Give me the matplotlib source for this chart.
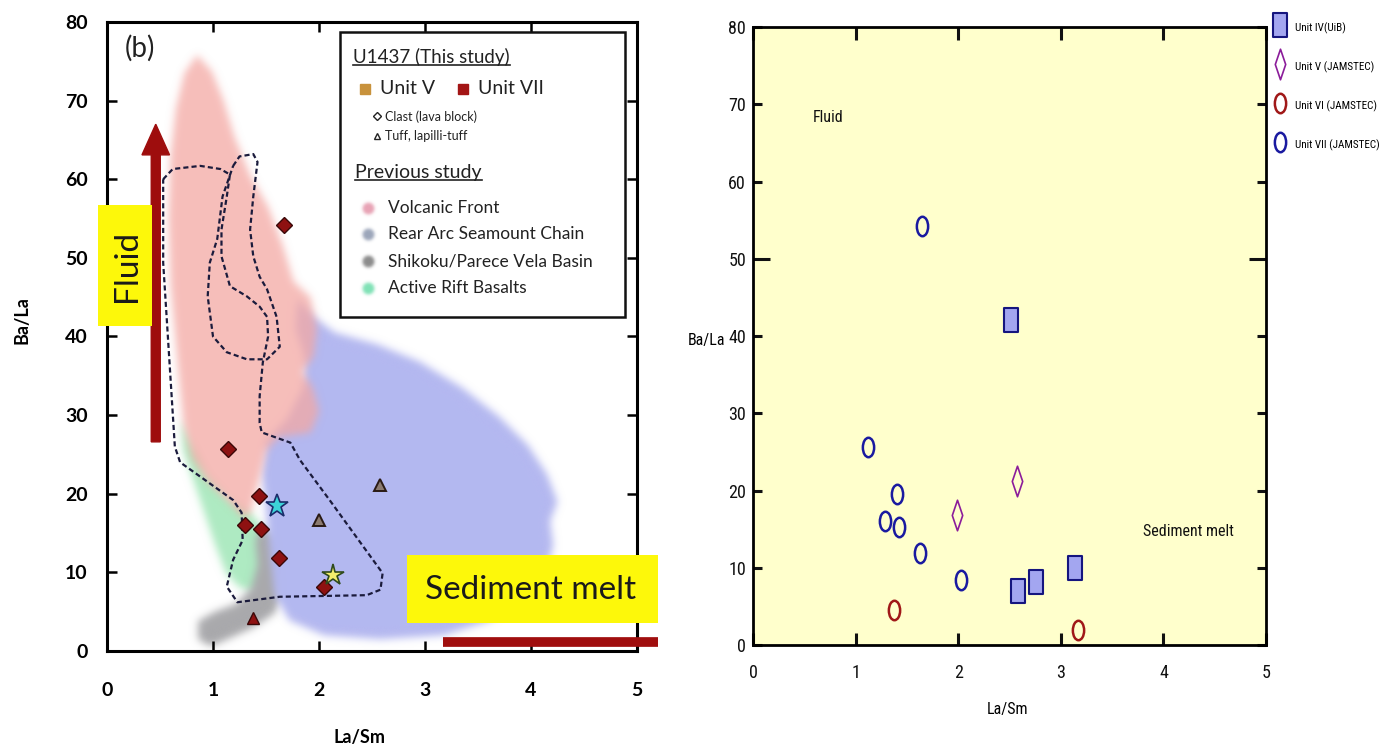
import numpy as np
import matplotlib
matplotlib.use("Agg")
import matplotlib.pyplot as plt
from matplotlib import font_manager as fm
from matplotlib.path import Path
from matplotlib.patches import Polygon, Rectangle, FancyArrow
from matplotlib.transforms import Affine2D

# ---------------- data ----------------
x_ticks = [0, 1, 2, 3, 4, 5]
y_ticks = [0, 10, 20, 30, 40, 50, 60, 70, 80]
x_tick_labels = [str(v) for v in x_ticks]
y_tick_labels = [str(v) for v in y_ticks]

# (b) U1437 samples
u7_clast_x = [1.67, 1.14, 1.43, 1.30, 1.45, 1.62, 2.05]
u7_clast_y = [54.2, 25.7, 19.7, 16.0, 15.5, 11.8, 8.2]
u7_tuff_x = [1.38]
u7_tuff_y = [4.2]
u5_tuff_x = [2.00, 2.58]
u5_tuff_y = [16.7, 21.1]
star_cyan_x, star_cyan_y = [1.60], [18.5]
star_yellow_x, star_yellow_y = [2.13], [9.7]

# previous-study compositional fields (La/Sm, Ba/La)
volcanic_front = [(0.85, 75.8), (0.99, 73.7), (1.10, 70.0), (1.20, 65.5), (1.35, 60.5),
                  (1.52, 56.5), (1.66, 51.5), (1.76, 47.0), (1.92, 45.0), (1.98, 41.0),
                  (1.95, 37.5), (1.84, 35.5), (1.94, 33.5), (2.00, 30.5), (1.92, 27.8),
                  (1.62, 27.2), (1.50, 25.5), (1.44, 22.0), (1.36, 17.8), (1.30, 16.8),
                  (1.15, 19.0), (0.95, 21.5), (0.80, 24.5), (0.72, 29.0), (0.66, 37.5),
                  (0.60, 46.5), (0.58, 55.0), (0.60, 63.0), (0.65, 69.0), (0.73, 73.5)]
rear_arc = [(1.80, 44.8), (1.95, 42.5), (2.15, 40.5), (2.55, 39.0), (2.95, 36.8),
            (3.35, 33.5), (3.70, 29.8), (3.97, 26.2), (4.15, 22.5), (4.25, 19.0),
            (4.18, 16.5), (4.21, 13.5), (4.15, 10.3), (3.97, 6.8), (3.60, 3.8),
            (3.17, 2.0), (2.58, 1.5), (2.05, 2.0), (1.72, 3.9), (1.58, 7.2),
            (1.54, 12.0), (1.50, 18.0), (1.46, 22.5), (1.50, 26.8), (1.70, 29.5),
            (1.85, 33.5), (1.86, 37.5), (1.78, 41.0)]
active_rift = [(0.70, 29.5), (0.72, 25.5), (0.82, 21.5), (0.92, 17.5), (1.02, 13.5),
               (1.12, 10.0), (1.24, 8.2), (1.38, 7.5), (1.48, 8.5), (1.52, 12.0),
               (1.48, 15.5), (1.36, 17.5), (1.15, 19.5), (0.95, 22.5), (0.80, 26.5)]
shikoku = [(1.45, 16.0), (1.62, 14.5), (1.68, 11.0), (1.66, 7.5), (1.58, 4.8),
           (1.38, 3.0), (1.15, 1.6), (0.98, 0.6), (0.86, 1.5), (0.86, 3.8),
           (1.02, 5.0), (1.22, 6.0), (1.36, 8.0), (1.42, 11.0), (1.40, 14.0)]
outer_field = [(0.53, 60.0), (0.62, 61.3), (0.88, 61.7), (1.07, 61.3), (1.16, 60.6),
               (1.13, 57.8), (1.08, 53.6), (1.08, 50.2), (1.16, 46.4), (1.32, 45.1),
               (1.44, 43.8), (1.51, 42.5), (1.52, 40.0), (1.47, 36.7), (1.44, 32.4),
               (1.44, 29.0), (1.46, 27.8), (1.73, 26.5), (1.82, 24.3), (2.10, 19.2),
               (2.39, 13.8), (2.60, 9.9), (2.58, 7.8), (2.45, 7.1), (1.63, 6.9),
               (1.23, 6.2), (1.13, 8.2), (1.19, 11.6), (1.28, 14.1), (1.27, 17.6),
               (1.19, 19.2), (0.69, 24.0), (0.64, 26.0), (0.57, 40.9), (0.53, 49.4),
               (0.53, 60.0)]
inner_field = [(1.19, 61.7), (1.25, 62.9), (1.38, 63.2), (1.42, 62.2), (1.38, 57.8),
               (1.35, 53.6), (1.38, 50.2), (1.44, 47.6), (1.51, 46.0), (1.60, 42.5),
               (1.63, 38.7), (1.51, 37.1), (1.32, 37.1), (1.13, 38.0), (1.00, 40.0),
               (0.95, 45.1), (0.97, 49.4), (1.04, 52.4), (1.09, 57.8), (1.19, 61.7)]

# right panel: units
unit4_x = [2.51, 2.58, 2.76, 3.14]
unit4_y = [42.1, 7.0, 8.1, 10.0]
unit5_x = [1.99, 2.57]
unit5_y = [16.8, 21.2]
unit6_x = [1.37, 3.17]
unit6_y = [4.5, 1.9]
unit7_x = [1.65, 1.12, 1.40, 1.29, 1.42, 1.63, 2.03]
unit7_y = [54.3, 25.6, 19.5, 16.1, 15.3, 11.9, 8.4]

LEFT_FONT = ["Lato", "DejaVu Sans"]


def pick_narrow_font():
    """Return (family, stretch) for the narrowest sans face available."""
    entries = fm.fontManager.ttflist
    names = {e.name for e in entries}
    for n in ["Liberation Sans Narrow", "Arial Narrow", "Roboto Condensed",
              "Open Sans Condensed", "DejaVu Sans Condensed", "Noto Sans Condensed"]:
        if n in names:
            return n, "normal", True
    for pref in ["Liberation Sans", "DejaVu Sans", "Noto Sans", "Roboto",
                 "Open Sans", "Lato", "Inter"]:
        for e in entries:
            if (e.name == pref and str(e.stretch) in ("condensed", "semi-condensed")
                    and e.style == "normal"):
                return pref, str(e.stretch), True
    return "Roboto", "normal", False


NARROW, NARROW_STRETCH, HAVE_NARROW = pick_narrow_font()
RIGHT_FONT = [NARROW, "DejaVu Sans"]
RT = dict(family=RIGHT_FONT, fontstretch=NARROW_STRETCH)
TICK_SIZE = 13 if HAVE_NARROW else 12
TEXT_SIZE = 11.5 if HAVE_NARROW else 10.5


# ---------------- helpers ----------------
def _blur1d(a, k, axis):
    p = len(k) // 2
    a = np.moveaxis(a, axis, 0)
    n = a.shape[0]
    ap = np.pad(a, ((p, p),) + ((0, 0),) * (a.ndim - 1))
    out = np.zeros_like(a)
    for i, kv in enumerate(k):
        out += kv * ap[i:i + n]
    return np.moveaxis(out, 0, axis)


def soft_edges(sigma):
    """agg filter giving a patch a feathered outline."""
    p = int(np.ceil(3 * sigma))
    n = np.arange(-p, p + 1)
    k = np.exp(-0.5 * (n / sigma) ** 2)
    k /= k.sum()

    def _filter(img, dpi):
        a = img[..., 3:4]
        pm = np.concatenate([img[..., :3] * a, a], axis=-1)
        pm = np.pad(pm, ((p, p), (p, p), (0, 0)))
        b = _blur1d(_blur1d(pm, k, 0), k, 1)
        alpha = b[..., 3:4]
        rgb = b[..., :3] / np.maximum(alpha, 1e-6)
        out = np.concatenate([rgb, alpha], axis=-1)
        return np.clip(out, 0, 1), -p, -p
    return _filter


def field(ax, verts, color, alpha=1.0, z=1, sigma=4.0):
    poly = Polygon(verts, closed=True, facecolor=color, edgecolor="none",
                   alpha=alpha, zorder=z)
    poly.set_agg_filter(soft_edges(sigma))
    ax.add_patch(poly)


W, H = 1384, 749
fig = plt.figure(figsize=(W / 100, H / 100), dpi=100)

# ================= left panel (b) =================
ax1 = fig.add_axes([0.07731, 0.13084, 0.38295, 0.83979])
ax1.set_xlim(0, 5)
ax1.set_ylim(0, 80)
ax1.set_xticks(x_ticks, x_tick_labels, fontweight="bold", family=LEFT_FONT, fontsize=14)
ax1.set_yticks(y_ticks, y_tick_labels, fontweight="bold", family=LEFT_FONT, fontsize=14)
ax1.tick_params(direction="in", length=7, width=1.8, top=True, right=True)
ax1.tick_params(axis="x", pad=22)
ax1.tick_params(axis="y", pad=14)
for s in ax1.spines.values():
    s.set_linewidth(2.2)
ax1.set_ylabel("Ba/La", fontweight="bold", family=LEFT_FONT, fontsize=13,
               ha="center", va="center")
ax1.yaxis.set_label_coords(-0.160, 0.526)
ax1.set_xlabel("La/Sm", fontweight="bold", family=LEFT_FONT, fontsize=13,
               ha="center", va="center")
ax1.xaxis.set_label_coords(0.477, -0.138)

field(ax1, active_rift, "#AEEBC2", z=1)
field(ax1, shikoku, "#A9A9AC", z=1.1)
field(ax1, rear_arc, "#B4B8F0", z=1.2)
field(ax1, volcanic_front, "#F4A8A3", alpha=0.75, z=1.3)

dash = (0, (2.3, 1.4))
ax1.plot(*zip(*outer_field), ls=dash, color="#1b1b3c", lw=1.6, zorder=2)
ax1.plot(*zip(*inner_field), ls=dash, color="#1b1b3c", lw=1.6, zorder=2)

ax1.plot(u7_clast_x, u7_clast_y, "D", ms=8.5, mfc="#8E1111", mec="#3a0808", mew=1.0,
         ls="none", zorder=4)
ax1.plot(u7_tuff_x, u7_tuff_y, "^", ms=9, mfc="#8E1111", mec="#3a0808", mew=1.0,
         ls="none", zorder=4)
ax1.plot(u5_tuff_x, u5_tuff_y, "^", ms=9, mfc="#8c7b70", mec="#2a1a14", mew=1.4,
         ls="none", zorder=4)
ax1.plot(star_cyan_x, star_cyan_y, "*", ms=17, mfc="#3CD3D8", mec="#1b2c6a", mew=1.2,
         ls="none", zorder=4)
ax1.plot(star_yellow_x, star_yellow_y, "*", ms=16, mfc="#F3EE6C", mec="#2f4a1c", mew=1.2,
         ls="none", zorder=4.5)

ax1.text(0.31, 76.6, "(b)", fontsize=20, family=LEFT_FONT, ha="center", va="center",
         color="#222222", zorder=6)

# Fluid arrow and label
ax1.add_patch(FancyArrow(0.46, 26.6, 0, 40.4, width=0.085, head_width=0.26,
                         head_length=3.9, length_includes_head=True,
                         color="#9E0D0D", zorder=5))
ax1.add_patch(Rectangle((-0.085, 41.3), 0.505, 15.4, facecolor="#FDF80A",
                        edgecolor="none", clip_on=False, zorder=5.5))
ax1.text(0.19, 49.0, "Fluid", rotation=90, fontsize=24, family=LEFT_FONT,
         ha="center", va="center", color="#1a1a1a", zorder=6)

# Sediment melt label and arrow
ax1.add_patch(Rectangle((2.83, 3.6), 2.37, 8.6, facecolor="#FDF80A",
                        edgecolor="none", clip_on=False, zorder=5.5))
ax1.text(4.0, 7.8, "Sediment melt", fontsize=24, family=LEFT_FONT,
         ha="center", va="center", color="#1a1a1a", zorder=6)
ax1.plot([3.17, 5.2], [1.15, 1.15], color="#A00E0E", lw=7, solid_capstyle="butt",
         clip_on=False, zorder=5)

# legend box for panel (b)
ax1.add_patch(Rectangle((2.20, 42.5), 2.69, 36.2, facecolor="white",
                        edgecolor="#111111", lw=1.8, zorder=7))
tk = dict(family=LEFT_FONT, color="#222222", va="center", zorder=8)
t_u = ax1.text(2.32, 75.5, "U1437 (This study)", fontsize=13.5, **tk)
ax1.plot([2.43], [71.5], "s", ms=7.5, color="#C8923C", zorder=8)
ax1.text(2.58, 71.5, "Unit V", fontsize=14, **tk)
ax1.plot([3.36], [71.5], "s", ms=7.5, color="#A31515", zorder=8)
ax1.text(3.50, 71.5, "Unit VII", fontsize=14, **tk)
ax1.plot([2.55], [68.0], "D", ms=4, mfc="white", mec="#222222", mew=1.0, zorder=8)
ax1.text(2.62, 68.0, "Clast (lava block)", fontsize=9, **tk)
ax1.plot([2.55], [65.5], "^", ms=5, mfc="white", mec="#222222", mew=1.0, zorder=8)
ax1.text(2.62, 65.5, "Tuff, lapilli-tuff", fontsize=9, **tk)
t_p = ax1.text(2.34, 60.9, "Previous study", fontsize=14, **tk)
blob_y = [56.4, 53.0, 49.6, 46.2]
blob_c = ["#E8A3B5", "#9CA6BA", "#8C8C8C", "#80E2B6"]
blob_t = ["Volcanic Front", "Rear Arc Seamount Chain", "Shikoku/Parece Vela Basin",
          "Active Rift Basalts"]
for yy, cc, tt in zip(blob_y, blob_c, blob_t):
    ln, = ax1.plot([2.46], [yy], "o", ms=7.5, color=cc, zorder=8)
    ln.set_agg_filter(soft_edges(1.5))
    ax1.text(2.65, yy, tt, fontsize=12.5, **tk)

# ================= right panel =================
ax2 = fig.add_axes([0.54408, 0.13885, 0.37066, 0.82510])
ax2.set_facecolor("#FFFFCC")
ax2.set_xlim(0, 5)
ax2.set_ylim(0, 80)
ax2.set_xticks(x_ticks, x_tick_labels, fontsize=TICK_SIZE, **RT)
ax2.set_yticks(y_ticks, y_tick_labels, fontsize=TICK_SIZE, **RT)
ax2.tick_params(direction="in", width=2.2, top=True, right=True, colors="#111111")
ax2.tick_params(axis="x", length=9, pad=14)
ax2.tick_params(axis="y", length=6.5, pad=5)
for s in ax2.spines.values():
    s.set_linewidth(2.0)
fifty = ax2.yaxis.get_major_ticks()[y_ticks.index(50)]
fifty.tick1line.set_markersize(12.5)
fifty.tick2line.set_markersize(12.5)

ax2.set_ylabel("Ba/La", rotation=0, fontsize=TEXT_SIZE, ha="right", va="center", **RT)
ax2.yaxis.set_label_coords(-0.055, 0.4935)
ax2.set_xlabel("La/Sm", fontsize=TEXT_SIZE, va="center", **RT)
ax2.xaxis.set_label_coords(0.497, -0.105)

C, L, Z = Path.CLOSEPOLY, Path.LINETO, Path.MOVETO
tall_rect = Path(Affine2D().scale(0.58, 1.0).transform(
    [(-1, -1), (1, -1), (1, 1), (-1, 1), (-1, -1)]), [Z, L, L, L, C])
tall_ellipse = Path.unit_circle().transformed(Affine2D().scale(0.58, 1.0))
tall_diamond = Path([(0, -1), (0.34, 0), (0, 1), (-0.34, 0), (0, -1)], [Z, L, L, L, C])

ax2.plot(unit4_x, unit4_y, ls="none", marker=tall_rect, ms=17.5, mfc="#A3A6F0",
         mec="#15157F", mew=1.5, label="Unit IV(UiB)", clip_on=False, zorder=3)
ax2.plot(unit5_x, unit5_y, ls="none", marker=tall_diamond, ms=22, mfc="none",
         mec="#8B1C9A", mew=1.2, label="Unit V (JAMSTEC)", clip_on=False, zorder=3)
ax2.plot(unit6_x, unit6_y, ls="none", marker=tall_ellipse, ms=14, mfc="none",
         mec="#A01818", mew=1.8, label="Unit VI (JAMSTEC)", clip_on=False, zorder=3)
ax2.plot(unit7_x, unit7_y, ls="none", marker=tall_ellipse, ms=14, mfc="none",
         mec="#1A1AA0", mew=1.8, label="Unit VII (JAMSTEC)", clip_on=False, zorder=3)

ax2.text(0.73, 68.3, "Fluid", fontsize=TEXT_SIZE, ha="center", va="center",
         color="#111111", **RT)
ax2.text(4.24, 14.7, "Sediment melt", fontsize=TEXT_SIZE, ha="center",
         va="center", color="#111111", **RT)

# legend outside the right panel; rows 39 px apart, text starting at x = 1295 px
leg_size, leg_spacing = 9.0, 1.6
anchor_x, anchor_y = 0.9198, 0.9704
row_top, row_pitch, text_left = 28.0, 39.0, 1295.0
for _ in range(4):
    leg = ax2.legend(loc="upper left", bbox_to_anchor=(anchor_x, anchor_y),
                     bbox_transform=fig.transFigure, frameon=False, numpoints=1,
                     handlelength=1.0, handleheight=2.0, handletextpad=0.85,
                     labelspacing=leg_spacing, borderpad=0, borderaxespad=0,
                     prop={"family": RIGHT_FONT, "stretch": NARROW_STRETCH,
                           "size": leg_size})
    fig.canvas.draw()
    bbs = [t.get_window_extent() for t in leg.get_texts()]
    widest = max(b.x1 for b in bbs)
    if widest > W - 3:
        leg_size *= (W - 3 - bbs[0].x0) / (widest - bbs[0].x0)
        continue
    centers = [H - 0.5 * (b.y0 + b.y1) for b in bbs]
    pitch = (centers[-1] - centers[0]) / (len(centers) - 1)
    leg_spacing += (row_pitch - pitch) / (leg_size * 100 / 72)
    anchor_y -= (row_top - centers[0]) / H
    anchor_x += (text_left - bbs[0].x0) / W

# underline the two legend headings of panel (b)
fig.canvas.draw()
renderer = fig.canvas.get_renderer()
inv = ax1.transData.inverted()
for t in (t_u, t_p):
    bb = t.get_window_extent(renderer)
    (x0, y0), (x1, _) = inv.transform([[bb.x0, bb.y0 + 1], [bb.x1, bb.y0 + 1]])
    ax1.plot([x0, x1], [y0, y0], color="#222222", lw=1.2, zorder=8)

fig.savefig("out.png", dpi=100)
